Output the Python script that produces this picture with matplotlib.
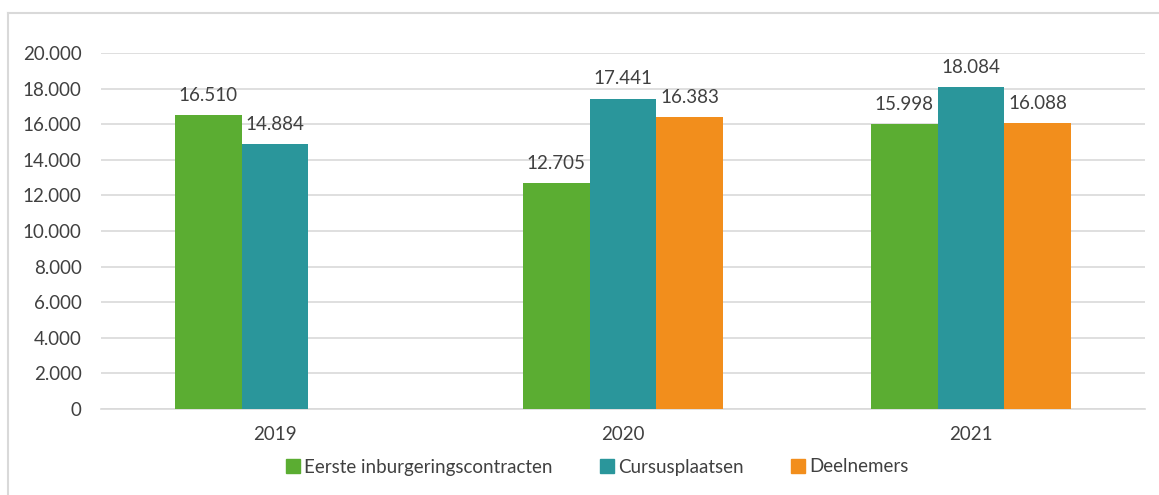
import matplotlib
matplotlib.use("Agg")
import matplotlib.pyplot as plt
import numpy as np
from matplotlib.lines import Line2D
from matplotlib.ticker import FuncFormatter

years = ["2019", "2020", "2021"]
series_names = ["Eerste inburgeringscontracten", "Cursusplaatsen", "Deelnemers"]
eerste = [16510, 12705, 15998]
cursus = [14884, 17441, 18084]
deelnemers = [np.nan, 16383, 16088]
colors = ["#5BAD32", "#2A969B", "#F28E1C"]
yticks = [0, 2000, 4000, 6000, 8000, 10000, 12000, 14000, 16000, 18000, 20000]

plt.rcParams['font.family'] = ['Lato', 'DejaVu Sans']
text_color = "#404040"
fs = 13.5

fig = plt.figure(figsize=(11.59, 4.95), dpi=100)
W, H = 1159, 495
ax = fig.add_axes([101 / W, 1 - 409 / H, (1145 - 101) / W, (409 - 53) / H])

x = np.arange(len(years))
bw = 0.1925
data = [eerste, cursus, deelnemers]
for i, (vals, c) in enumerate(zip(data, colors)):
    pos = x + (i - 1) * bw
    ax.bar(pos, vals, width=bw, color=c, zorder=3)
    for p, v in zip(pos, vals):
        if np.isnan(v):
            continue
        s = f"{int(v):,}".replace(",", ".")
        ax.annotate(s, (p, v), xytext=(0, 8), textcoords="offset points",
                    ha="center", va="bottom", fontsize=fs, color=text_color)

ax.set_xlim(-0.5, 2.5)
ax.set_ylim(0, 20000)
ax.set_yticks(yticks)
ax.yaxis.set_major_formatter(FuncFormatter(lambda v, _: f"{int(v):,}".replace(",", ".")))
ax.set_xticks(x)
ax.set_xticklabels(years)
ax.grid(axis="y", color="#d9d9d9", linewidth=1.2, zorder=0)
for s in ["top", "right", "left"]:
    ax.spines[s].set_visible(False)
ax.spines["bottom"].set_color("#d9d9d9")
ax.spines["bottom"].set_linewidth(1.2)
ax.tick_params(axis="both", length=0, labelsize=fs, labelcolor=text_color)
ax.tick_params(axis="y", pad=14)
ax.tick_params(axis="x", pad=12)

handles = [Line2D([], [], marker="s", linestyle="", markersize=10, color=c) for c in colors]
fig.legend(handles, series_names, loc="center", bbox_to_anchor=(596 / W, 1 - 467 / H),
           ncol=3, frameon=False, fontsize=fs, labelcolor=text_color,
           handletextpad=0.1, columnspacing=2.4, handlelength=1.0)

# outer chart border (left and top visible)
fig.add_artist(Line2D([8 / W, 8 / W], [0, 1 - 13 / H], transform=fig.transFigure,
                      color="#d9d9d9", linewidth=1.5))
fig.add_artist(Line2D([8 / W, 1], [1 - 13 / H, 1 - 13 / H], transform=fig.transFigure,
                      color="#d9d9d9", linewidth=1.5))

fig.savefig("out.png", dpi=100)
